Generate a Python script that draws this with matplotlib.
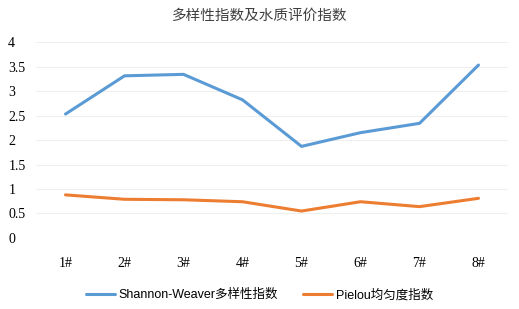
import numpy as np
import matplotlib
matplotlib.use("Agg")
import matplotlib.pyplot as plt

sites = ['1#', '2#', '3#', '4#', '5#', '6#', '7#', '8#']
shannon = [2.53, 3.31, 3.34, 2.82, 1.87, 2.15, 2.34, 3.53]
pielou = [0.88, 0.79, 0.78, 0.74, 0.55, 0.74, 0.64, 0.81]

cjk = ['Noto Sans CJK SC', 'DejaVu Sans']
serif = ['Liberation Serif', 'DejaVu Serif']
leg_font = ['Liberation Sans', 'Noto Sans CJK SC']

fig = plt.figure(figsize=(5.19, 3.09), dpi=100)
ax = fig.add_axes([0.0694, 0.2298, 0.9094, 0.6342])

x = np.arange(len(sites))
ax.plot(x, shannon, color='#5B9BD5', lw=2.2, label='Shannon-Weaver多样性指数', solid_capstyle='round')
ax.plot(x, pielou, color='#ED7D31', lw=2.2, label='Pielou均匀度指数', solid_capstyle='round')

ax.set_xlim(-0.5, 7.5)
ax.set_ylim(0, 4)
ax.set_yticks(np.arange(0, 4.01, 0.5))
ax.set_yticklabels(['0', '0.5', '1', '1.5', '2', '2.5', '3', '3.5', '4'], family=serif, fontsize=10)
ax.set_xticks(x)
ax.set_xticklabels(sites, family=serif, fontsize=10)
ax.tick_params(axis='both', length=0)
ax.tick_params(axis='x', pad=14)
ax.tick_params(axis='y', pad=20)
for lbl in ax.get_yticklabels():
    lbl.set_horizontalalignment('left')
ax.grid(axis='y', color='#efefef', lw=0.8)
ax.set_axisbelow(True)
for s in ax.spines.values():
    s.set_visible(False)

fig.text(0.5, 0.95, '多样性指数及水质评价指数', ha='center', va='center', family=cjk, fontsize=10.5, color='#404040')

leg = fig.legend(loc='center', bbox_to_anchor=(0.5, 0.045), ncol=2, frameon=False,
                 prop={'family': leg_font, 'size': 9}, handlelength=2.3, columnspacing=2.0, handletextpad=0.3)

fig.savefig('out.png', dpi=100)
